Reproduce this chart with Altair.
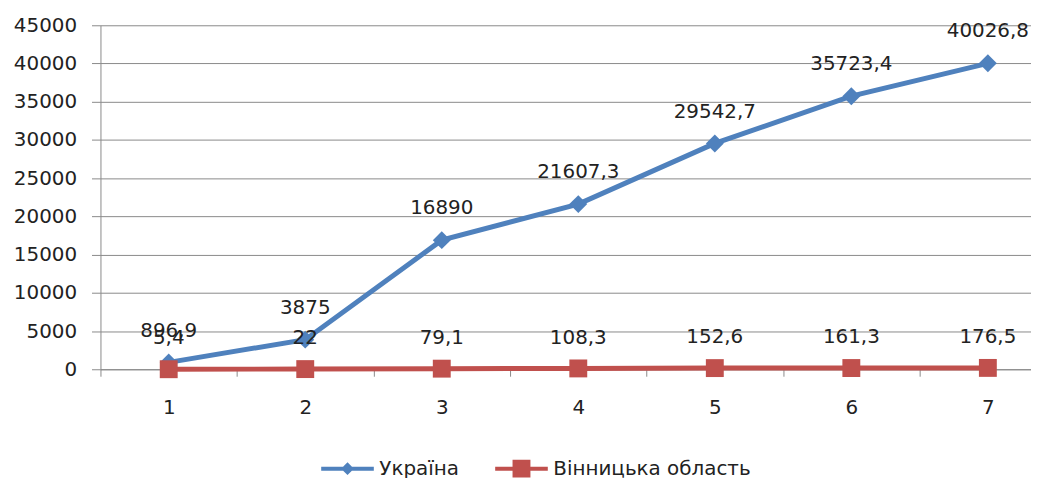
import altair as alt
import pandas as pd

# ---- data ----
periods = [1, 2, 3, 4, 5, 6, 7]
ukraine = [896.9, 3875, 16890, 21607.3, 29542.7, 35723.4, 40026.8]
vinnytsia = [5.4, 22, 79.1, 108.3, 152.6, 161.3, 176.5]
series_names = ["Україна", "Вінницька область"]
y_ticks = [0, 5000, 10000, 15000, 20000, 25000, 30000, 35000, 40000, 45000]
x_ticks = [0.5, 1, 1.5, 2, 2.5, 3, 3.5, 4, 4.5, 5, 5.5, 6, 6.5, 7]

colors = ["#4F81BD", "#C0504D"]
FONT = "DejaVu Sans"
FS = 20
TEXT = "#222222"
GRID = "#8a8a8a"

legend_paths = [
    "M-2.94,-0.22L2.94,-0.22L2.94,0.22L-2.94,0.22Z M-0.72,0L0,-0.72L0.72,0L0,0.72Z",
    "M-2.94,-0.22L2.94,-0.22L2.94,0.22L-2.94,0.22Z M-1,-1L1,-1L1,1L-1,1Z",
]

rows = []
for s, vals in zip(series_names, [ukraine, vinnytsia]):
    for p, v in zip(periods, vals):
        rows.append({"series": s, "period": p, "value": v})
df = pd.DataFrame(rows)
legend_df = pd.DataFrame({"series": series_names})

x_enc = alt.X(
    "period:Q",
    scale=alt.Scale(domain=[0.5, 7.316], nice=False, zero=False),
    axis=alt.Axis(
        values=x_ticks,
        grid=False,
        title=None,
        labelExpr="datum.value % 1 == 0 ? format(datum.value, 'd') : ''",
        tickOpacity={"condition": {"test": "datum.value % 1 == 0", "value": 0}, "value": 1},
        tickSize=7,
        labelPadding=22,
        labelFontSize=FS,
        labelFont=FONT,
        labelColor=TEXT,
        labelFlush=False,
        labelOverlap=False,
        domainColor=GRID,
        tickColor=GRID,
    ),
)
y_enc = alt.Y(
    "value:Q",
    scale=alt.Scale(domain=[0, 45000], nice=False),
    axis=alt.Axis(
        values=y_ticks,
        format="d",
        title=None,
        grid=True,
        gridColor=GRID,
        domainColor=GRID,
        tickColor=GRID,
        tickSize=9,
        labelPadding=15,
        labelFontSize=FS,
        labelFont=FONT,
        labelColor=TEXT,
    ),
)

base = alt.Chart(df).encode(x=x_enc, y=y_enc)

def sel(name):
    return base.transform_filter(alt.datum.series == name)

ua_line = sel(series_names[0]).mark_line(color=colors[0], strokeWidth=5)
ua_pts = sel(series_names[0]).mark_point(shape="diamond", size=324, filled=True, opacity=1, color=colors[0])
vn_line = sel(series_names[1]).mark_line(color=colors[1], strokeWidth=5)
vn_pts = sel(series_names[1]).mark_point(shape="square", size=324, filled=True, opacity=1, color=colors[1])

ua_lbl = sel(series_names[0]).transform_calculate(
    label="replace(toString(datum.value), '.', ',')"
).mark_text(dy=-32, fontSize=FS, font=FONT, color=TEXT).encode(text="label:N")
vn_lbl = sel(series_names[1]).transform_calculate(
    label="replace(toString(datum.value), '.', ',')"
).mark_text(dy=-31, fontSize=FS, font=FONT, color=TEXT).encode(text="label:N")

leg = alt.Legend(
    orient="none",
    legendX=238.5,
    legendY=436,
    direction="horizontal",
    title=None,
    symbolSize=324,
    symbolOpacity=1,
    symbolStrokeWidth=0,
    labelFontSize=FS,
    labelFont=FONT,
    labelColor=TEXT,
    labelOffset=22,
    labelLimit=500,
    columnPadding=35,
)
legend_layer = alt.Chart(legend_df).mark_point(filled=True, opacity=0).encode(
    color=alt.Color("series:N", scale=alt.Scale(domain=series_names, range=colors), legend=leg),
    shape=alt.Shape("series:N", scale=alt.Scale(domain=series_names, range=legend_paths), legend=leg),
)

chart = alt.layer(
    ua_line, ua_pts, vn_line, vn_pts, ua_lbl, vn_lbl, legend_layer
).properties(
    width=936,
    height=346,
    autosize=alt.AutoSizeParams(type="none"),
    padding={"left": 93, "top": 16, "right": 0, "bottom": 108},
).configure_view(stroke=None)

chart.save("out.html", embed_options={"renderer": "svg", "actions": False})
